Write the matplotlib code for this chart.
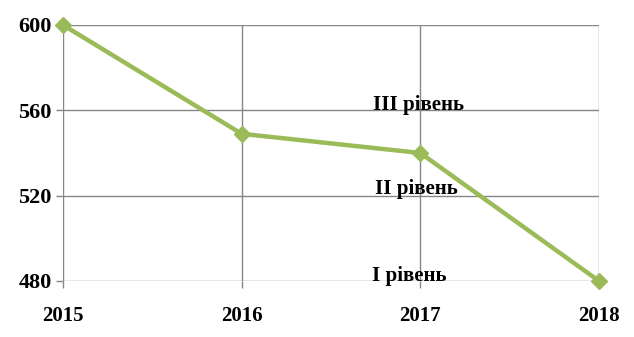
import matplotlib.pyplot as plt

years = [2015, 2016, 2017, 2018]
values = [600, 549, 540, 480]
y_ticks = [480, 520, 560, 600]
level_labels = ["III рівень", "II рівень", "I рівень"]
level_x = [2016.99, 2016.98, 2016.94]
level_y = [562.5, 523, 482.5]

plt.rcParams['font.family'] = ['Liberation Serif', 'DejaVu Serif']

fig = plt.figure(figsize=(6.34, 3.37), dpi=100)
ax = fig.add_axes([63 / 634, 1 - 281 / 337, (599 - 63) / 634, (281 - 25) / 337])

grid_col = "#868686"
ax.plot(years, values, color="#9BBB59", linewidth=3.2, marker="D", markersize=8,
        clip_on=False, zorder=3)

ax.set_xlim(2015, 2018)
ax.set_ylim(480, 600)
ax.set_xticks(years)
ax.set_yticks(y_ticks)
ax.grid(True, color=grid_col, linewidth=1)
for s in ax.spines.values():
    s.set_visible(False)
ax.tick_params(axis='y', length=5, color=grid_col, width=1, pad=3)
ax.tick_params(axis='x', length=5, color=grid_col, width=1, pad=13)
for lab in ax.get_yticklabels():
    lab.set_fontsize(16)
    lab.set_fontweight('bold')
for lab in ax.get_xticklabels():
    lab.set_fontsize(15)
    lab.set_fontweight('bold')

for txt, x, y in zip(level_labels, level_x, level_y):
    ax.text(x, y, txt, fontsize=15, fontweight='bold', ha='center', va='center', zorder=4)

fig.savefig("out.png", dpi=100)
